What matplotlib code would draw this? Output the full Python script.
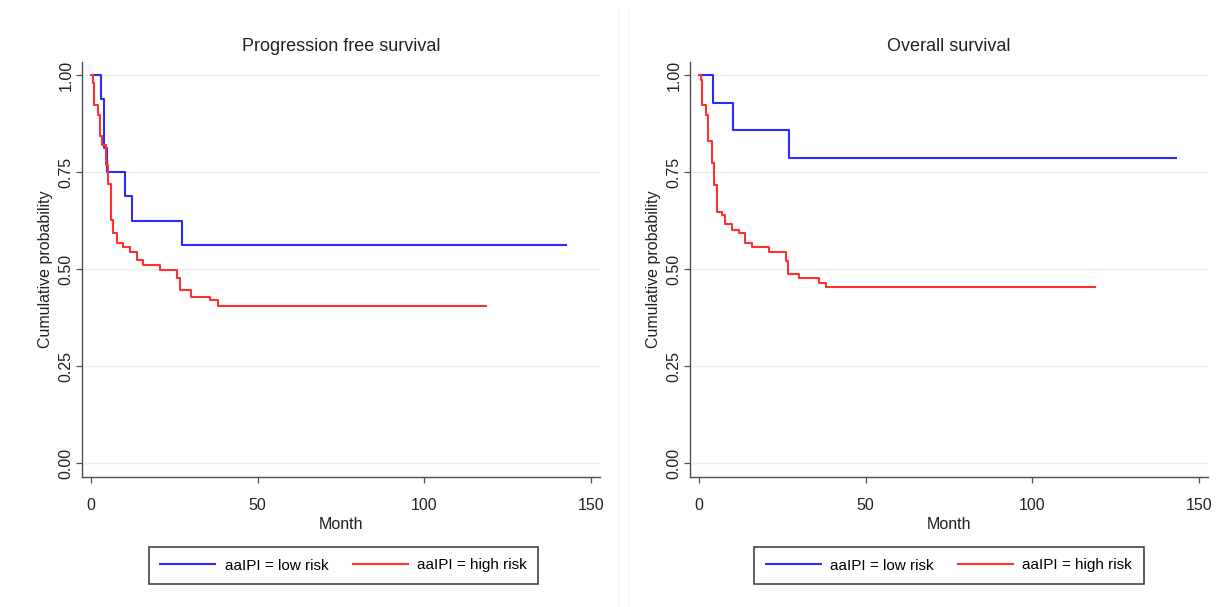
import matplotlib
matplotlib.use("Agg")
import matplotlib.pyplot as plt
from matplotlib.lines import Line2D

plt.rcParams["font.family"] = ["Liberation Sans Narrow", "Liberation Sans", "DejaVu Sans"]

# Progression free survival
pfs_low_t = [0, 3.0, 3.9, 4.9, 10.2, 12.2, 27.2, 142.5]
pfs_low_s = [1.0, 0.9375, 0.8125, 0.75, 0.6875, 0.625, 0.5625, 0.5625]
pfs_high_t = [0, 0.6, 1.0, 2.0, 2.7, 3.4, 4.4, 5.0, 5.2, 5.9, 6.7, 7.7, 9.7, 11.7,
              13.7, 15.7, 20.7, 25.7, 26.6, 30.1, 35.6, 38.1, 118.6]
pfs_high_s = [1.0, 0.979, 0.923, 0.897, 0.843, 0.82, 0.768, 0.747, 0.72, 0.626, 0.593,
              0.567, 0.558, 0.545, 0.523, 0.51, 0.497, 0.476, 0.446, 0.427, 0.42, 0.405, 0.405]

# Overall survival
os_low_t = [0, 4.1, 10.3, 27.1, 143.0]
os_low_s = [1.0, 0.9286, 0.8571, 0.7857, 0.7857]
os_high_t = [0, 0.6, 1.0, 2.0, 2.8, 3.8, 4.5, 5.5, 6.8, 7.8, 10.0, 12.0, 13.8, 16.0,
             21.0, 26.1, 26.8, 30.0, 36.0, 38.0, 118.8]
os_high_s = [1.0, 0.987, 0.923, 0.897, 0.83, 0.772, 0.717, 0.648, 0.639, 0.615, 0.6,
             0.592, 0.568, 0.558, 0.545, 0.521, 0.487, 0.476, 0.465, 0.453, 0.453]

titles = ["Progression free survival", "Overall survival"]
legend_labels = ["aaIPI = low risk", "aaIPI = high risk"]
yticks = [0, 0.25, 0.5, 0.75, 1.0]
xticks = [0, 50, 100, 150]

BLUE = "#2b2bff"
RED = "#ff3030"
AXCOL = "#505050"

fig = plt.figure(figsize=(12.24, 6.07), dpi=100)
fig.patch.set_facecolor("white")

ax_pos = [[82 / 1224, 1 - 477 / 607, 518 / 1224, 415 / 607],
          [690 / 1224, 1 - 477 / 607, 518 / 1224, 415 / 607]]
# legend box centres (figure fractions)
leg_centre = [((150 + 537) / 2 / 1224, 1 - 565.5 / 607),
              ((756 + 1142) / 2 / 1224, 1 - 565.5 / 607)]

data = [(pfs_low_t, pfs_low_s, pfs_high_t, pfs_high_s),
        (os_low_t, os_low_s, os_high_t, os_high_s)]

for i in range(2):
    ax = fig.add_axes(ax_pos[i])
    lt, ls, ht, hs = data[i]
    for y in yticks:
        ax.axhline(y, color="#eaf0f1", lw=1.0, zorder=0)
    ax.step(lt, ls, where="post", color=BLUE, lw=1.5)
    ax.step(ht, hs, where="post", color=RED, lw=1.5)
    ax.set_xlim(-2.7, 152.7)
    ax.set_ylim(-0.036, 1.0335)
    ax.set_xticks(xticks)
    ax.set_yticks(yticks)
    ax.set_yticklabels(["%.2f" % v for v in yticks], rotation=90, va="center")
    for s in ["top", "right"]:
        ax.spines[s].set_visible(False)
    for s in ["left", "bottom"]:
        ax.spines[s].set_color(AXCOL)
        ax.spines[s].set_linewidth(1.0)
    ax.tick_params(axis="both", colors=AXCOL, length=4, width=0.9, labelsize=11.5,
                   labelcolor="#222222")
    ax.tick_params(axis="y", pad=2)
    ax.tick_params(axis="x", pad=11)
    ax.set_title(titles[i], fontsize=13, color="#222222", pad=8)
    ax.set_xlabel("Month", fontsize=11.5, color="#222222", labelpad=3)
    ax.set_ylabel("Cumulative probability", fontsize=11.5, color="#222222", labelpad=4)

    handles = [Line2D([], [], color=BLUE, lw=1.5), Line2D([], [], color=RED, lw=1.5)]
    leg = fig.legend(handles, legend_labels, loc="center", ncol=2,
                     bbox_to_anchor=leg_centre[i], bbox_transform=fig.transFigure,
                     fontsize=11, handlelength=3.6, handletextpad=0.6,
                     columnspacing=1.6, borderpad=0.75,
                     fancybox=False, framealpha=1, borderaxespad=0)
    leg.get_frame().set_edgecolor("#444444")
    leg.get_frame().set_linewidth(1.2)

# faint panel separators
fig.add_artist(Line2D([618 / 1224, 618 / 1224], [0, 1 - 8 / 607], color="#f4f4f4", lw=1))
fig.add_artist(Line2D([628 / 1224, 628 / 1224], [0, 1 - 8 / 607], color="#f4f4f4", lw=1))

fig.savefig("out.png", dpi=100)
